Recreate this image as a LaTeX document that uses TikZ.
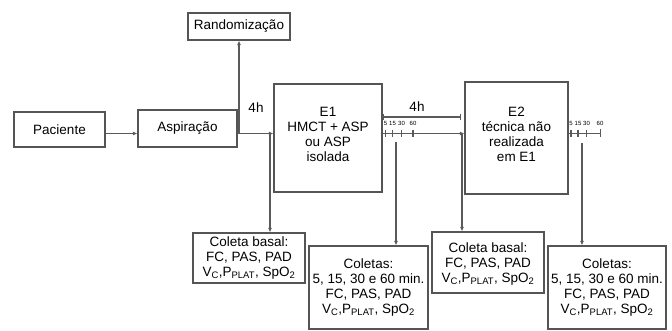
\documentclass[tikz,border=0pt]{standalone}
\usepackage{fontspec}
\setmainfont{Liberation Sans}
\usetikzlibrary{arrows.meta}
\definecolor{boxc}{RGB}{85,85,85}
\definecolor{linec}{RGB}{90,90,90}
\begin{document}
\begin{tikzpicture}[x=1pt,y=-1pt,
  box/.style={draw=boxc,line width=1.2pt,align=center,inner sep=0pt,
    font=\fontsize{13.5}{15}\selectfont},
  arr/.style={draw=linec,line width=1.1pt,-{Latex[length=4.5pt,width=4pt]}},
  ln/.style={draw=linec,line width=1.1pt},
  lbl/.style={font=\fontsize{13.5}{15}\selectfont,inner sep=0pt},
  tiny/.style={font=\fontsize{6}{7}\selectfont,inner sep=0pt}]
\useasboundingbox (0,0) rectangle (672,331);
% boxes
\node[box,minimum width=91pt,minimum height=35pt] (pac) at (59.5,129.5) {Paciente};
\node[box,minimum width=99pt,minimum height=37pt] (asp) at (187.5,128.5) {Aspiração};
\node[box,minimum width=102pt,minimum height=27pt] (rand) at (239,26.5) {Randomização};
\node[box,minimum width=108pt,minimum height=108pt] (e1) at (328,138) {};
\node[lbl,align=center] (e1t) at (328,134.5) {E1\\HMCT + ASP\\ou ASP\\isolada};
\node[box,minimum width=103pt,minimum height=112pt] (e2) at (516.5,138) {};
\node[lbl,align=center] (e2t) at (516.5,134) {E2\\técnica não\\realizada\\em E1};
\node[box,minimum width=112pt,minimum height=50pt] (cb1) at (249,258)
  {Coleta basal:\\FC, PAS, PAD\\V\textsubscript{C},P\textsubscript{PLAT}, SpO\textsubscript{2}};
\node[box,minimum width=119pt,minimum height=83pt] (col1) at (368.5,287.5)
  {Coletas:\\5, 15, 30 e 60 min.\\FC, PAS, PAD\\V\textsubscript{C},P\textsubscript{PLAT}, SpO\textsubscript{2}};
\node[box,minimum width=112pt,minimum height=61pt] (cb2) at (488,262.5) {};
\node[lbl,align=center] (cb2t) at (488,264)
  {Coleta basal:\\FC, PAS, PAD\\V\textsubscript{C},P\textsubscript{PLAT}, SpO\textsubscript{2}};
\node[box,minimum width=118pt,minimum height=83pt] (col2) at (607,287.5)
  {Coletas:\\5, 15, 30 e 60 min.\\FC, PAS, PAD\\V\textsubscript{C},P\textsubscript{PLAT}, SpO\textsubscript{2}};
% coordinates
\coordinate (ly) at (0,133.5);
\coordinate (j1) at (239,133.5);
\coordinate (v1) at (270,133.5);
\coordinate (b1) at (461,117);
\coordinate (v2) at (396,142);
\coordinate (v3) at (462,133.5);
\coordinate (t2) at (601,133.5);
\coordinate (v4) at (582,143);
% labels
\node[lbl] (h1) at (256,108) {4h};
\node[lbl] (h2) at (417,107) {4h};
% connectors
\draw[arr] (pac.east|-ly) -- (asp.west|-ly);
\draw[arr] (asp.east|-ly) -- (e1.west|-ly);
\draw[arr] (j1) -- (rand.south);
\draw[arr] (v1) -- (v1|-cb1.north);
\draw[ln,{Bar[width=6pt]}-{Bar[width=6pt]}] (e1.east|-b1) -- (b1);
\draw[arr] (e1.east|-ly) -- (e2.west|-ly);
\draw[arr] (v2) -- (v2|-col1.north);
\draw[arr] (v3) -- (v3|-cb2.north);
\draw[ln,-{Bar[width=8pt]}] (e2.east|-ly) -- (t2);
\draw[arr] (v4) -- (v4|-col2.north);
% ticks E1
\foreach \x/\t in {385.5/5,392.5/15,401.5/30,413/60}{
  \draw[ln] (\x,130) -- (\x,137);
  \node[tiny] at (\x,123.5) {\t};
}
% ticks E2
\foreach \x in {571,578,586.5}{
  \draw[ln] (\x,130) -- (\x,137);
}
\foreach \x/\t in {571/5,578/15,586.5/30,600/60}{
  \node[tiny] at (\x,123.5) {\t};
}
\end{tikzpicture}
\end{document}
